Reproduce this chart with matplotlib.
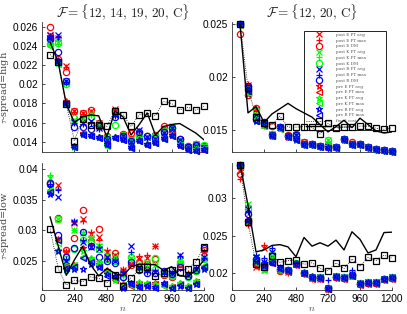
import numpy as np
import matplotlib
matplotlib.use('Agg')
import matplotlib.pyplot as plt

plt.rcParams['mathtext.fontset'] = 'cm'
plt.rcParams['font.family'] = 'Liberation Sans'

# sample sizes
n = [60, 120, 180, 240, 300, 360, 420, 480, 540, 600,
     660, 720, 780, 840, 900, 960, 1020, 1080, 1140, 1200]

# all values below are in units of 1e-3
# ---- top left: F = {12, 14, 19, 20, C}, tau-spread = high
tl_E_avg = [25.1, 24.8, 21.9, 17.2, 17.0, 17.2, 16.0, 14.4, 17.4, 14.7, 14.3, 14.8, 14.5, 14.6, 15.4, 15.2, 14.2, 13.5, 13.8, 13.6]
tl_E_max = [25.0, 24.6, 21.8, 17.1, 16.9, 17.1, 15.9, 14.3, 17.3, 14.6, 14.2, 14.7, 14.4, 14.5, 15.3, 15.1, 14.1, 13.4, 13.7, 13.5]
tl_E_dm = [26.0, 22.6, 21.3, 17.2, 17.0, 17.3, 16.0, 14.6, 17.2, 14.8, 14.9, 14.6, 14.6, 14.7, 15.6, 15.0, 14.3, 13.6, 13.8, 13.6]
tl_K_avg = [24.5, 24.4, 20.1, 16.3, 16.5, 16.9, 15.8, 14.3, 17.0, 14.6, 14.1, 14.6, 14.5, 14.5, 15.0, 15.6, 14.0, 13.4, 13.7, 13.6]
tl_K_max = [24.3, 24.2, 20.0, 16.2, 16.4, 16.8, 15.7, 14.2, 16.9, 14.5, 14.0, 14.5, 14.4, 14.4, 14.9, 15.5, 13.9, 13.3, 13.6, 13.5]
tl_K_dm = [24.2, 24.3, 20.0, 16.5, 16.4, 16.6, 15.9, 14.5, 15.7, 14.7, 14.2, 14.6, 14.6, 14.6, 15.1, 15.4, 14.1, 13.5, 13.8, 13.7]
tl_R_avg = [25.1, 25.1, 20.3, 16.1, 16.0, 16.2, 15.4, 14.2, 16.8, 14.6, 14.0, 15.2, 14.5, 14.3, 14.9, 15.4, 14.2, 13.4, 13.6, 13.3]
tl_R_max = [25.0, 24.9, 20.2, 16.0, 15.9, 16.0, 15.3, 14.1, 16.7, 14.5, 13.9, 15.1, 14.4, 14.2, 14.8, 15.3, 14.1, 13.3, 13.5, 13.2]
tl_R_dm = [24.7, 23.4, 20.3, 15.5, 15.5, 15.3, 15.6, 14.3, 16.6, 14.6, 14.1, 15.0, 14.6, 14.4, 15.0, 15.4, 14.3, 13.5, 13.7, 13.3]
tl_preE_avg = [25.0, 22.5, 18.2, 13.6, 14.9, 14.7, 14.5, 13.8, 14.5, 14.3, 13.4, 14.2, 13.8, 14.0, 14.4, 14.7, 13.7, 13.2, 13.1, 13.2]
tl_preE_max = [24.9, 22.3, 18.0, 13.5, 14.8, 14.6, 14.4, 13.7, 14.4, 14.2, 13.3, 14.1, 13.7, 13.9, 14.3, 14.6, 13.6, 13.1, 13.0, 13.1]
tl_preK_avg = [24.2, 22.2, 17.9, 13.4, 14.8, 14.7, 14.5, 13.7, 14.5, 14.3, 13.4, 14.2, 13.8, 14.0, 14.4, 14.8, 13.8, 13.2, 13.2, 13.3]
tl_preK_max = [24.0, 22.1, 17.8, 13.5, 14.7, 14.6, 14.4, 13.6, 14.4, 14.2, 13.3, 14.1, 13.7, 13.9, 14.3, 14.6, 13.7, 13.1, 13.1, 13.2]
tl_preR_avg = [24.9, 22.4, 18.0, 13.6, 14.8, 14.7, 14.5, 13.8, 14.5, 14.3, 13.4, 14.2, 13.8, 14.0, 14.4, 14.7, 13.7, 13.2, 13.1, 13.2]
tl_preR_max = [24.8, 22.3, 17.9, 13.5, 14.7, 14.6, 14.4, 13.7, 14.4, 14.2, 13.3, 14.1, 13.7, 13.9, 14.3, 14.6, 13.6, 13.1, 13.0, 13.1]
tl_cost = [23.1, 22.3, 17.9, 14.1, 16.4, 15.7, 15.7, 15.6, 17.2, 16.8, 15.6, 16.8, 17.0, 16.7, 18.2, 18.0, 17.3, 17.6, 17.3, 17.7]
tl_opt = [24.4, 22.3, 17.9, 16.0, 16.6, 16.8, 16.7, 14.5, 17.2, 16.6, 14.7, 15.8, 17.0, 14.7, 15.6, 15.8, 15.9, 15.4, 14.9, 14.2]

# ---- top right: F = {12, 20, C}, tau-spread = high
tr_E_avg = [25.0, 19.2, 17.0, 15.5, 14.6, 15.3, 14.4, 14.5, 13.8, 13.7, 13.5, 13.5, 13.4, 14.1, 13.7, 13.7, 13.4, 13.2, 13.1, 13.0]
tr_E_max = [24.8, 19.3, 16.8, 15.4, 14.5, 15.2, 14.3, 14.4, 13.7, 13.6, 13.4, 13.4, 13.3, 14.0, 13.6, 13.6, 13.3, 13.1, 13.0, 12.9]
tr_E_dm = [24.05, 18.3, 17.1, 15.6, 15.4, 15.3, 14.5, 14.6, 13.8, 13.7, 13.5, 13.6, 13.4, 14.1, 13.8, 13.7, 13.4, 13.2, 13.1, 13.0]
tr_K_avg = [25.0, 18.8, 16.5, 15.6, 14.5, 15.3, 14.4, 14.5, 13.7, 13.7, 13.5, 14.0, 13.4, 14.1, 13.7, 13.7, 13.4, 13.2, 13.1, 13.0]
tr_K_max = [24.9, 18.7, 16.4, 15.5, 14.4, 15.2, 14.3, 14.4, 13.6, 13.6, 13.4, 13.9, 13.3, 14.0, 13.6, 13.6, 13.3, 13.1, 13.0, 12.95]
tr_K_dm = [25.0, 18.9, 16.9, 15.6, 14.6, 15.3, 14.4, 14.5, 13.7, 13.7, 13.5, 14.0, 13.4, 14.1, 13.7, 13.7, 13.4, 13.2, 13.1, 13.0]
tr_R_avg = [25.0, 19.0, 16.3, 15.7, 14.5, 15.3, 14.4, 14.5, 13.7, 13.7, 13.5, 13.4, 13.4, 14.1, 13.7, 13.7, 13.4, 13.2, 13.1, 12.95]
tr_R_max = [25.0, 18.9, 16.2, 15.6, 14.4, 15.2, 14.3, 14.4, 13.6, 13.6, 13.4, 13.3, 13.3, 14.0, 13.6, 13.6, 13.3, 13.1, 13.0, 12.9]
tr_R_dm = [25.0, 19.1, 16.0, 15.7, 14.5, 15.3, 14.4, 14.5, 13.7, 13.7, 13.5, 13.4, 13.4, 14.1, 13.7, 13.7, 13.4, 13.2, 13.1, 12.95]
tr_preE_avg = [25.0, 18.4, 15.9, 15.5, 14.4, 15.2, 14.3, 14.0, 13.7, 13.7, 13.5, 13.4, 13.4, 14.0, 13.7, 13.7, 13.4, 13.2, 13.1, 12.95]
tr_preE_max = [24.9, 18.6, 15.8, 15.4, 14.4, 15.1, 14.3, 14.0, 13.6, 13.6, 13.4, 13.4, 13.3, 14.0, 13.6, 13.6, 13.3, 13.1, 13.0, 12.9]
tr_preK_avg = [25.0, 18.6, 16.0, 15.5, 14.5, 15.2, 14.4, 14.1, 13.7, 13.7, 13.5, 13.5, 13.4, 14.1, 13.7, 13.7, 13.4, 13.2, 13.1, 13.0]
tr_preK_max = [24.9, 18.5, 15.9, 15.4, 14.4, 15.1, 14.3, 14.0, 13.6, 13.6, 13.4, 13.4, 13.3, 14.0, 13.6, 13.6, 13.3, 13.1, 13.0, 12.9]
tr_preR_avg = [25.0, 18.8, 15.8, 15.6, 14.5, 15.3, 14.4, 14.1, 13.7, 13.7, 13.5, 13.4, 13.4, 14.1, 13.7, 13.7, 13.4, 13.2, 13.1, 12.95]
tr_preR_max = [25.0, 18.7, 15.8, 15.5, 14.4, 15.2, 14.3, 14.0, 13.6, 13.6, 13.4, 13.3, 13.3, 14.0, 13.6, 13.6, 13.3, 13.1, 13.0, 12.9]
tr_cost = [25.0, 19.0, 16.2, 15.6, 15.5, 16.3, 15.25, 15.25, 15.3, 15.25, 14.6, 15.6, 15.2, 15.25, 15.3, 15.35, 15.35, 15.15, 15.05, 15.2]
tr_opt = [25.0, 16.6, 17.2, 15.7, 16.5, 17.0, 17.5, 17.0, 16.6, 16.2, 15.5, 14.8, 15.3, 15.9, 15.2, 16.1, 15.5, 14.9, 14.7, 14.8]

# ---- bottom left: F = {12, 14, 19, 20, C}, tau-spread = low
bl_E_avg = [37.0, 37.4, 26.5, 31.2, 31.8, 29.4, 29.0, 26.5, 26.0, 23.5, 24.6, 25.3, 25.5, 27.4, 23.3, 22.6, 24.3, 22.8, 23.6, 26.5]
bl_E_max = [37.2, 36.7, 26.7, 31.4, 31.6, 29.8, 28.5, 26.8, 25.8, 23.7, 24.8, 25.9, 26.0, 27.5, 23.4, 22.8, 24.5, 23.0, 23.8, 26.7]
bl_E_dm = [37.5, 32.0, 26.9, 28.7, 33.3, 28.3, 30.3, 25.5, 26.3, 23.0, 24.3, 24.9, 24.6, 25.4, 22.8, 22.5, 24.5, 22.6, 23.4, 26.9]
bl_K_avg = [38.5, 31.8, 25.0, 30.0, 29.6, 28.7, 27.5, 26.0, 25.6, 22.8, 25.45, 24.5, 24.9, 24.4, 23.2, 22.9, 25.2, 22.9, 23.6, 25.3]
bl_K_max = [39.0, 26.8, 24.5, 30.1, 29.8, 28.9, 27.8, 25.7, 25.4, 22.6, 25.2, 24.3, 24.2, 24.6, 23.0, 22.7, 25.0, 22.7, 23.5, 25.5]
bl_K_dm = [37.8, 31.9, 25.3, 27.0, 28.5, 27.9, 27.0, 25.4, 25.0, 22.4, 25.7, 24.0, 23.8, 25.45, 22.9, 22.6, 24.8, 22.5, 23.4, 25.3]
bl_R_avg = [37.0, 35.5, 25.0, 31.4, 28.2, 27.3, 27.0, 25.6, 25.0, 23.0, 27.45, 24.0, 23.6, 23.2, 23.3, 23.0, 26.0, 22.8, 23.8, 25.7]
bl_R_max = [37.5, 36.6, 25.3, 31.5, 28.4, 27.6, 27.35, 25.3, 25.2, 23.2, 26.5, 23.8, 23.2, 23.5, 23.1, 23.1, 25.8, 22.9, 23.9, 25.5]
bl_R_dm = [37.7, 29.3, 25.6, 27.1, 29.8, 27.5, 25.7, 25.0, 24.7, 22.5, 24.8, 23.6, 23.0, 23.0, 23.4, 22.9, 24.0, 22.6, 23.6, 27.1]
bl_preE_avg = [36.5, 28.6, 23.9, 24.4, 27.2, 25.3, 24.5, 23.5, 22.3, 21.3, 21.2, 21.4, 21.3, 21.5, 21.2, 21.0, 21.5, 21.0, 21.8, 24.0]
bl_preE_max = [36.3, 28.4, 24.2, 24.2, 25.7, 25.0, 24.3, 23.2, 22.0, 21.0, 21.0, 21.2, 21.0, 21.3, 21.0, 20.8, 21.3, 20.8, 21.6, 24.2]
bl_preK_avg = [36.4, 26.8, 23.6, 24.0, 26.7, 25.5, 24.8, 23.3, 22.0, 20.9, 21.4, 21.6, 21.5, 21.2, 21.3, 21.0, 21.4, 21.0, 21.7, 24.0]
bl_preK_max = [36.6, 28.0, 24.0, 24.3, 25.6, 25.2, 24.6, 23.0, 22.2, 21.1, 21.1, 21.0, 21.2, 21.0, 21.0, 20.7, 21.2, 20.8, 21.5, 24.1]
bl_preR_avg = [36.0, 26.7, 23.7, 23.8, 23.8, 24.6, 24.1, 22.9, 22.6, 20.7, 21.5, 20.9, 21.0, 20.8, 21.4, 20.6, 21.0, 20.6, 21.3, 23.8]
bl_preR_max = [36.2, 28.4, 23.9, 24.1, 25.5, 24.9, 24.1, 22.6, 22.4, 20.8, 21.3, 20.8, 21.1, 20.7, 21.2, 20.7, 21.1, 20.7, 21.2, 24.0]
bl_cost = [30.3, 23.8, 21.1, 21.9, 21.65, 22.45, 22.2, 21.5, 22.7, 20.9, 22.3, 23.65, 24.1, 22.6, 23.0, 23.6, 23.3, 23.8, 24.9, 27.3]
bl_opt = [32.2, 27.5, 22.7, 25.2, 27.4, 24.4, 22.6, 23.8, 23.0, 22.6, 24.1, 24.5, 24.5, 24.4, 23.5, 24.1, 22.6, 22.5, 23.5, 25.2]

# ---- bottom right: F = {12, 20, C}, tau-spread = low
br_E_avg = [33.5, 26.8, 20.9, 23.4, 21.8, 20.5, 20.2, 21.2, 20.0, 19.4, 19.3, 17.9, 19.5, 19.4, 19.7, 18.6, 18.7, 18.7, 19.2, 19.4]
br_E_max = [32.5, 26.4, 21.0, 23.7, 22.0, 20.4, 20.1, 21.1, 19.9, 19.3, 19.2, 17.8, 19.4, 19.3, 19.6, 18.5, 18.6, 18.6, 19.1, 19.3]
br_E_dm = [33.2, 26.9, 21.3, 21.0, 21.5, 20.3, 20.3, 21.3, 20.1, 19.5, 19.4, 18.0, 19.5, 19.4, 19.8, 18.6, 18.7, 18.7, 19.3, 19.4]
br_K_avg = [34.3, 29.2, 22.2, 20.4, 22.3, 20.7, 20.4, 21.4, 20.1, 19.5, 19.5, 18.1, 19.6, 19.5, 19.8, 18.7, 18.8, 18.8, 19.3, 19.5]
br_K_max = [34.2, 29.0, 22.0, 20.6, 22.2, 20.6, 20.3, 21.3, 20.0, 19.4, 19.4, 18.0, 19.5, 19.4, 19.7, 18.6, 18.7, 18.7, 19.2, 19.4]
br_K_dm = [34.3, 28.5, 21.8, 21.2, 22.5, 20.5, 20.4, 21.4, 20.1, 19.5, 19.5, 18.1, 19.6, 19.5, 19.8, 18.7, 18.8, 18.8, 19.3, 19.5]
br_R_avg = [34.3, 28.5, 22.2, 21.5, 22.8, 20.7, 20.4, 21.3, 20.1, 19.5, 19.5, 18.0, 19.6, 19.5, 19.9, 18.7, 18.8, 18.8, 19.3, 19.5]
br_R_max = [34.4, 28.1, 22.4, 22.0, 23.3, 20.8, 20.5, 21.4, 20.2, 19.6, 19.5, 19.1, 19.6, 19.5, 20.4, 18.7, 18.8, 18.8, 19.3, 19.5]
br_R_dm = [34.3, 27.8, 21.9, 21.3, 21.5, 20.6, 20.4, 21.3, 20.1, 19.5, 19.4, 18.0, 19.5, 19.4, 19.8, 18.6, 18.7, 18.7, 19.3, 19.4]
br_preE_avg = [34.2, 26.6, 21.2, 20.8, 21.5, 20.5, 20.3, 21.2, 20.0, 19.4, 19.4, 17.9, 19.5, 19.4, 19.7, 18.6, 18.7, 18.7, 19.2, 19.4]
br_preE_max = [34.1, 26.8, 21.0, 20.9, 21.4, 20.4, 20.2, 21.1, 19.9, 19.3, 19.3, 17.9, 19.4, 19.3, 19.6, 18.5, 18.6, 18.6, 19.1, 19.3]
br_preK_avg = [34.3, 26.9, 21.6, 20.5, 21.7, 20.6, 20.4, 21.3, 20.1, 19.5, 19.5, 18.0, 19.6, 19.5, 19.8, 18.7, 18.8, 18.8, 19.3, 19.5]
br_preK_max = [34.2, 27.0, 21.4, 20.6, 21.6, 20.5, 20.3, 21.2, 20.0, 19.4, 19.4, 18.0, 19.5, 19.4, 19.7, 18.6, 18.7, 18.7, 19.2, 19.4]
br_preR_avg = [34.3, 27.1, 21.6, 21.0, 21.5, 20.7, 20.4, 21.3, 20.1, 19.5, 19.5, 18.0, 19.6, 19.5, 19.8, 18.7, 18.8, 18.8, 19.3, 19.5]
br_preR_max = [34.3, 26.9, 21.8, 21.1, 21.4, 20.6, 20.3, 21.2, 20.0, 19.4, 19.4, 17.9, 19.5, 19.4, 19.7, 18.6, 18.7, 18.7, 19.2, 19.4]
br_cost = [34.3, 26.8, 21.2, 20.8, 22.3, 21.45, 21.7, 21.75, 21.2, 21.4, 20.65, 20.35, 21.4, 20.65, 21.9, 20.9, 22.1, 21.7, 22.4, 22.05]
br_opt = [34.5, 29.0, 22.85, 23.1, 23.7, 23.8, 23.5, 22.2, 24.75, 23.6, 24.05, 23.6, 24.4, 23.1, 25.5, 24.5, 22.7, 23.1, 25.4, 25.45]

labels = ['post E PT avg', 'post E PT max', 'post E DM',
          'post K PT avg', 'post K PT max', 'post K DM',
          'post R PT avg', 'post R PT max', 'post R DM',
          'pre E PT avg', 'pre E PT max', 'pre K PT avg',
          'pre K PT max', 'pre R PT avg', 'pre R PT max']
black_labels = ['fixed cost', 'optimal']

G = (0, 1, 0)
styles = [('x', 'r'), ('+', 'r'), ('o', 'r'),
          ('x', G), ('+', G), ('o', G),
          ('x', 'b'), ('+', 'b'), ('o', 'b'),
          ('*', 'r'), ('<', 'r'), ('*', G), ('<', G), ('*', 'b'), ('<', 'b')]

W, H = 407, 314
fig = plt.figure(figsize=(W / 100, H / 100), dpi=100)


def add_axes(x0, x1, ytop, ybot):
    return fig.add_axes([x0 / W, 1 - ybot / H, (x1 - x0) / W, (ybot - ytop) / H])


def panel(ax, series, cost, opt, ylim, yticks, ytl, showx):
    hs = []
    for vals, (mk, col), lab in zip(series, styles, labels):
        h, = ax.plot(n, np.array(vals) * 1e-3, ls='none', marker=mk, mec=col, mfc='none',
                     ms=4.5, mew=0.9, clip_on=False, zorder=3, label=lab)
        hs.append(h)
    h1, = ax.plot(n, np.array(cost) * 1e-3, ':', color='k', lw=0.6, marker='s', mfc='none',
                  mec='k', ms=4.8, mew=0.9, clip_on=False, zorder=4, label=black_labels[0])
    h2, = ax.plot(n, np.array(opt) * 1e-3, '-', color='k', lw=1.0, zorder=4, label=black_labels[1])
    ax.set_xlim(0, 1200)
    ax.set_ylim(*ylim)
    ax.set_xticks([0, 240, 480, 720, 960, 1200])
    ax.set_yticks(yticks)
    ax.set_yticklabels(ytl)
    if not showx:
        ax.set_xticklabels([])
    for sp in ['top', 'right']:
        ax.spines[sp].set_visible(False)
    for sp in ['left', 'bottom']:
        ax.spines[sp].set_linewidth(0.6)
        ax.spines[sp].set_color('#333333')
    ax.tick_params(direction='in', length=2, width=0.5, labelsize=7.3, pad=3)
    ax.patch.set_alpha(0)
    return hs + [h1, h2]


ax_tl = add_axes(42, 204, 22, 152)
ax_tr = add_axes(232, 392, 22, 152)
ax_bl = add_axes(42, 204, 163, 290)
ax_br = add_axes(232, 392, 163, 290)

panel(ax_tl, [tl_E_avg, tl_E_max, tl_E_dm, tl_K_avg, tl_K_max, tl_K_dm, tl_R_avg, tl_R_max, tl_R_dm,
              tl_preE_avg, tl_preE_max, tl_preK_avg, tl_preK_max, tl_preR_avg, tl_preR_max],
      tl_cost, tl_opt, (0.01293, 0.02649),
      [0.014, 0.016, 0.018, 0.02, 0.022, 0.024, 0.026],
      ['0.014', '0.016', '0.018', '0.02', '0.022', '0.024', '0.026'], False)
handles = panel(ax_tr, [tr_E_avg, tr_E_max, tr_E_dm, tr_K_avg, tr_K_max, tr_K_dm, tr_R_avg, tr_R_max, tr_R_dm,
                        tr_preE_avg, tr_preE_max, tr_preK_avg, tr_preK_max, tr_preR_avg, tr_preR_max],
                tr_cost, tr_opt, (0.0129, 0.0252),
                [0.015, 0.02, 0.025], ['0.015', '0.02', '0.025'], False)
panel(ax_bl, [bl_E_avg, bl_E_max, bl_E_dm, bl_K_avg, bl_K_max, bl_K_dm, bl_R_avg, bl_R_max, bl_R_dm,
              bl_preE_avg, bl_preE_max, bl_preK_avg, bl_preK_max, bl_preR_avg, bl_preR_max],
      bl_cost, bl_opt, (0.0203, 0.0410),
      [0.025, 0.03, 0.035, 0.04], ['0.025', '0.03', '0.035', '0.04'], True)
panel(ax_br, [br_E_avg, br_E_max, br_E_dm, br_K_avg, br_K_max, br_K_dm, br_R_avg, br_R_max, br_R_dm,
              br_preE_avg, br_preE_max, br_preK_avg, br_preK_max, br_preR_avg, br_preR_max],
      br_cost, br_opt, (0.0178, 0.0346),
      [0.02, 0.025, 0.03], ['0.02', '0.025', '0.03'], True)

# legend sits behind the data, like the original
leg = ax_tr.legend(handles=handles, loc='upper left', bbox_to_anchor=(0.44, 0.13, 0.535, 0.816),
                   mode='expand', labelspacing=0.42, handlelength=6, handletextpad=1.2,
                   borderpad=0.4, frameon=True, fancybox=False, framealpha=1, edgecolor='k',
                   prop={'family': 'DejaVu Serif', 'size': 3})
leg.get_frame().set_linewidth(0.6)
for t in leg.get_texts():
    t.set_color('#555555')
leg.set_zorder(1)

# titles, axis labels
fig.text(123.5 / W, 1 - 12 / H, r'$\mathcal{F}=\{12,\,14,\,19,\,20,\,\mathrm{C}\}$',
         ha='center', va='center', fontsize=9.5, color='#222222')
fig.text(312 / W, 1 - 12 / H, r'$\mathcal{F}=\{12,\,20,\,\mathrm{C}\}$',
         ha='center', va='center', fontsize=9.5, color='#222222')
fig.text(5 / W, 1 - 87 / H, r'$\tau$-spread=high', rotation=90, ha='center', va='center',
         fontsize=7, family='DejaVu Serif', color='#444444')
fig.text(5 / W, 1 - 226 / H, r'$\tau$-spread=low', rotation=90, ha='center', va='center',
         fontsize=7, family='DejaVu Serif', color='#444444')
fig.text(123 / W, 1 - 308 / H, r'$n$', ha='center', va='center', fontsize=7, color='#444444')
fig.text(312 / W, 1 - 308 / H, r'$n$', ha='center', va='center', fontsize=7, color='#444444')

fig.savefig('out.png', dpi=100)
